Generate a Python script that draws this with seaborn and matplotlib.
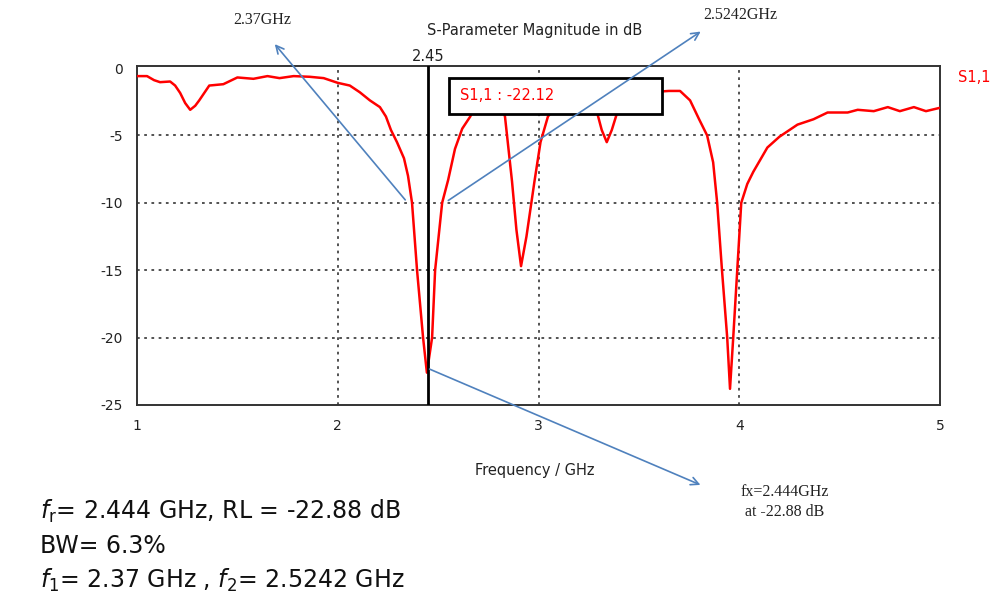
import numpy as np
import pandas as pd
import seaborn as sns
import matplotlib
matplotlib.use("Agg")
import matplotlib.pyplot as plt
from matplotlib.patches import Rectangle, FancyArrowPatch

# ---- data ----
freq_ghz = [1.00, 1.05, 1.085, 1.115, 1.165, 1.19, 1.215, 1.24, 1.265, 1.29, 1.31,
            1.36, 1.43, 1.50, 1.58, 1.65, 1.71, 1.78, 1.86, 1.93, 2.00, 2.06, 2.11,
            2.16, 2.21, 2.24, 2.265, 2.295, 2.33, 2.35, 2.37, 2.395, 2.425, 2.444,
            2.47, 2.485, 2.52, 2.55, 2.584, 2.62, 2.66, 2.70, 2.76, 2.80, 2.833,
            2.868, 2.89, 2.913, 2.94, 2.98, 3.01, 3.047, 3.10, 3.18, 3.25, 3.29,
            3.315, 3.34, 3.365, 3.39, 3.45, 3.55, 3.65, 3.705, 3.755, 3.80, 3.84,
            3.87, 3.89, 3.914, 3.94, 3.954, 3.97, 3.99, 4.01, 4.04, 4.07, 4.14, 4.20,
            4.29, 4.37, 4.44, 4.54, 4.59, 4.67, 4.74, 4.80, 4.87, 4.93, 5.00]
s11_db = [-0.6, -0.6, -0.9, -1.05, -1.0, -1.3, -1.85, -2.6, -3.1, -2.8, -2.4,
          -1.3, -1.2, -0.7, -0.8, -0.6, -0.75, -0.6, -0.65, -0.75, -1.1, -1.3, -1.8,
          -2.4, -2.9, -3.6, -4.6, -5.5, -6.7, -8.0, -10.0, -15.0, -20.0, -22.6,
          -20.0, -15.0, -10.0, -8.3, -6.0, -4.5, -3.6, -2.4, -1.8, -2.0, -3.6,
          -8.4, -12.0, -14.7, -12.5, -8.4, -5.5, -3.6, -2.6, -2.1, -2.1, -3.2,
          -4.6, -5.5, -4.6, -3.4, -2.2, -1.8, -1.7, -1.7, -2.4, -3.8, -5.0,
          -7.0, -10.0, -15.0, -20.0, -23.8, -20.0, -15.0, -10.0, -8.6, -7.7, -5.9, -5.1,
          -4.2, -3.8, -3.3, -3.3, -3.1, -3.2, -2.9, -3.2, -2.9, -3.2, -2.95]
x_ticks = [1, 2, 3, 4, 5]
y_ticks = [0, -5, -10, -15, -20, -25]
marker_freq = 2.45
marker_label = "S1,1 : -22.12"
arrow_labels = ["2.37GHz", "2.5242GHz", "fx=2.444GHz\nat -22.88 dB"]
summary_lines = [r"$f_{\mathrm{r}}$= 2.444 GHz, RL = -22.88 dB",
                 "BW= 6.3%",
                 r"$f_1$= 2.37 GHz , $f_2$= 2.5242 GHz"]

df = pd.DataFrame({"Frequency / GHz": freq_ghz, "S1,1": s11_db})

sns.set_style("white")
plt.rcParams["font.family"] = ["DejaVu Sans"]
plt.rcParams["mathtext.fontset"] = "dejavusans"

W, H = 1001, 608
fig = plt.figure(figsize=(W / 100, H / 100), dpi=100)
fig.patch.set_facecolor("white")

def fp(x, y):
    return (x / W, 1 - y / H)

ax = fig.add_axes([137 / W, 1 - 405 / H, 803 / W, 339 / H])

sns.lineplot(data=df, x="Frequency / GHz", y="S1,1", ax=ax, color="#ff0000",
             linewidth=1.8, zorder=3)
ax.set_xlim(1, 5)
ax.set_ylim(-25, 0.15)
ax.set_xticks(x_ticks)
ax.set_yticks(y_ticks)
ax.set_xticklabels([str(v) for v in x_ticks])
ax.set_yticklabels([str(v) for v in y_ticks])
ax.set_xlabel("")
ax.set_ylabel("")
ax.tick_params(axis="both", direction="out", length=7, width=1.2, color="#333333",
               labelsize=10, labelcolor="#222222", pad=3)
for s in ax.spines.values():
    s.set_visible(True)
    s.set_color("#333333")
    s.set_linewidth(1.4)

# dotted grid lines
for xv in x_ticks[1:-1]:
    ax.axvline(xv, color="#444444", lw=1.3, ls=(0, (1.5, 2.5)), zorder=1)
for yv in y_ticks[1:-1]:
    ax.axhline(yv, color="#444444", lw=1.3, ls=(0, (1.5, 2.5)), zorder=1)

# marker line
ax.axvline(marker_freq, color="black", lw=2.0, zorder=4)
ax.text(marker_freq, 1.005, f"{marker_freq:.2f}", transform=ax.get_xaxis_transform(),
        ha="center", va="bottom", fontsize=10.5, color="#222222")

# marker box
ax.add_patch(Rectangle(((449 - 137) / 803, (405 - 114) / 339), 213 / 803, 36 / 339,
                       transform=ax.transAxes, facecolor="white", edgecolor="black",
                       lw=2.0, zorder=5))
ax.text((460 - 137) / 803, (405 - 96) / 339, marker_label, transform=ax.transAxes,
        ha="left", va="center", fontsize=10.5, color="#ff0000", zorder=6)

# titles
fig.text(*fp(535, 30), "S-Parameter Magnitude in dB", ha="center", va="center",
         fontsize=10.5, color="#222222")
fig.text(*fp(535, 470), "Frequency / GHz", ha="center", va="center",
         fontsize=10.5, color="#222222")
fig.text(*fp(958, 77), "S1,1", ha="left", va="center", fontsize=10.5, color="#ff0000")

# arrows
acol = "#4f81bd"
arrows = [((407, 202), (273, 42)), ((446, 202), (703, 30)), ((427, 368), (703, 486))]
for tail, head in arrows:
    fig.add_artist(FancyArrowPatch(
        fp(*tail), fp(*head), transform=fig.transFigure, arrowstyle="->",
        mutation_scale=14, color=acol, lw=1.2, zorder=10))

fig.text(*fp(262, 20), arrow_labels[0], ha="center", va="center", fontsize=11.5,
         family="Liberation Serif", color="#222222")
fig.text(*fp(740, 15), arrow_labels[1], ha="center", va="center", fontsize=11.5,
         family="Liberation Serif", color="#222222")
fig.text(*fp(785, 502), arrow_labels[2], ha="center", va="center", fontsize=11.5,
         family="Liberation Serif", color="#222222", linespacing=1.3)

# summary text
for yy, line in zip([511, 546, 580], summary_lines):
    fig.text(*fp(40, yy), line, ha="left", va="center", fontsize=17, color="#111111")

fig.savefig("out.png", dpi=100, facecolor="white")
